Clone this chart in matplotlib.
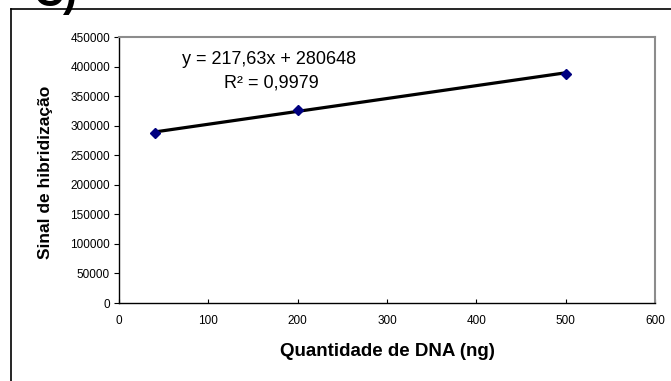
import numpy as np
import matplotlib.pyplot as plt
from matplotlib.lines import Line2D

plt.rcParams['font.family'] = ['Liberation Sans', 'DejaVu Sans']

# DNA amount (ng) vs hybridization signal
dna_ng = [40, 200, 500]
signal = [287000, 326000, 388000]

# linear fit reported on the chart
slope = 217.63
intercept = 280648
r2_text = '0,9979'

x_ticks = [0, 100, 200, 300, 400, 500, 600]
y_ticks = [0, 50000, 100000, 150000, 200000, 250000, 300000, 350000, 400000, 450000]

fig = plt.figure(figsize=(6.71, 3.81), dpi=100)
ax = fig.add_axes([119 / 671, 1 - 303 / 381, (655 - 119) / 671, (303 - 37) / 381])

# trendline over the data range
xs = np.array([min(dna_ng), max(dna_ng)])
ax.plot(xs, slope * xs + intercept, color='black', lw=2.3, zorder=2)
ax.plot(dna_ng, signal, linestyle='none', marker='D', ms=5.5,
        color='#000080', zorder=3)

ax.set_xlim(0, 600)
ax.set_ylim(0, 450000)
ax.set_xticks(x_ticks)
ax.set_yticks(y_ticks)
ax.tick_params(axis='x', direction='in', length=3, labelsize=8.5, pad=9)
ax.tick_params(axis='y', direction='out', length=3.5, labelsize=8.5, pad=3)

for side in ['top', 'right']:
    ax.spines[side].set_color('#8c8c8c')
    ax.spines[side].set_linewidth(1.5)
for side in ['left', 'bottom']:
    ax.spines[side].set_color('black')
    ax.spines[side].set_linewidth(1.0)

ax.set_xlabel('Quantidade de DNA (ng)', fontsize=13.5, fontweight='bold')
ax.set_ylabel('Sinal de hibridização', fontsize=12.5, fontweight='bold')
ax.xaxis.set_label_coords(0.5, -0.184)
ax.yaxis.set_label_coords(-0.138, 0.49)
ax.xaxis.label.set_va('center')
ax.yaxis.label.set_va('center')

eq = 'y = {:.2f}x + {}'.format(slope, intercept).replace('.', ',')
ax.text(0.28, 0.914, eq, transform=ax.transAxes, fontsize=13,
        ha='center', va='center')
ax.text(0.284, 0.827, 'R² = ' + r2_text, transform=ax.transAxes, fontsize=13,
        ha='center', va='center')

# outer chart frame (only top and left edges fit in the figure)
fig.add_artist(Line2D([11 / 671, 1], [1 - 9 / 381, 1 - 9 / 381], color='black', lw=1.2))
fig.add_artist(Line2D([11 / 671, 11 / 671], [0, 1 - 9 / 381], color='black', lw=1.2))

# panel letter
fig.text(33 / 671, 1 - 6 / 381, 'C)', fontsize=30, fontweight='bold',
         ha='left', va='baseline')

fig.savefig('out.png', dpi=100)
